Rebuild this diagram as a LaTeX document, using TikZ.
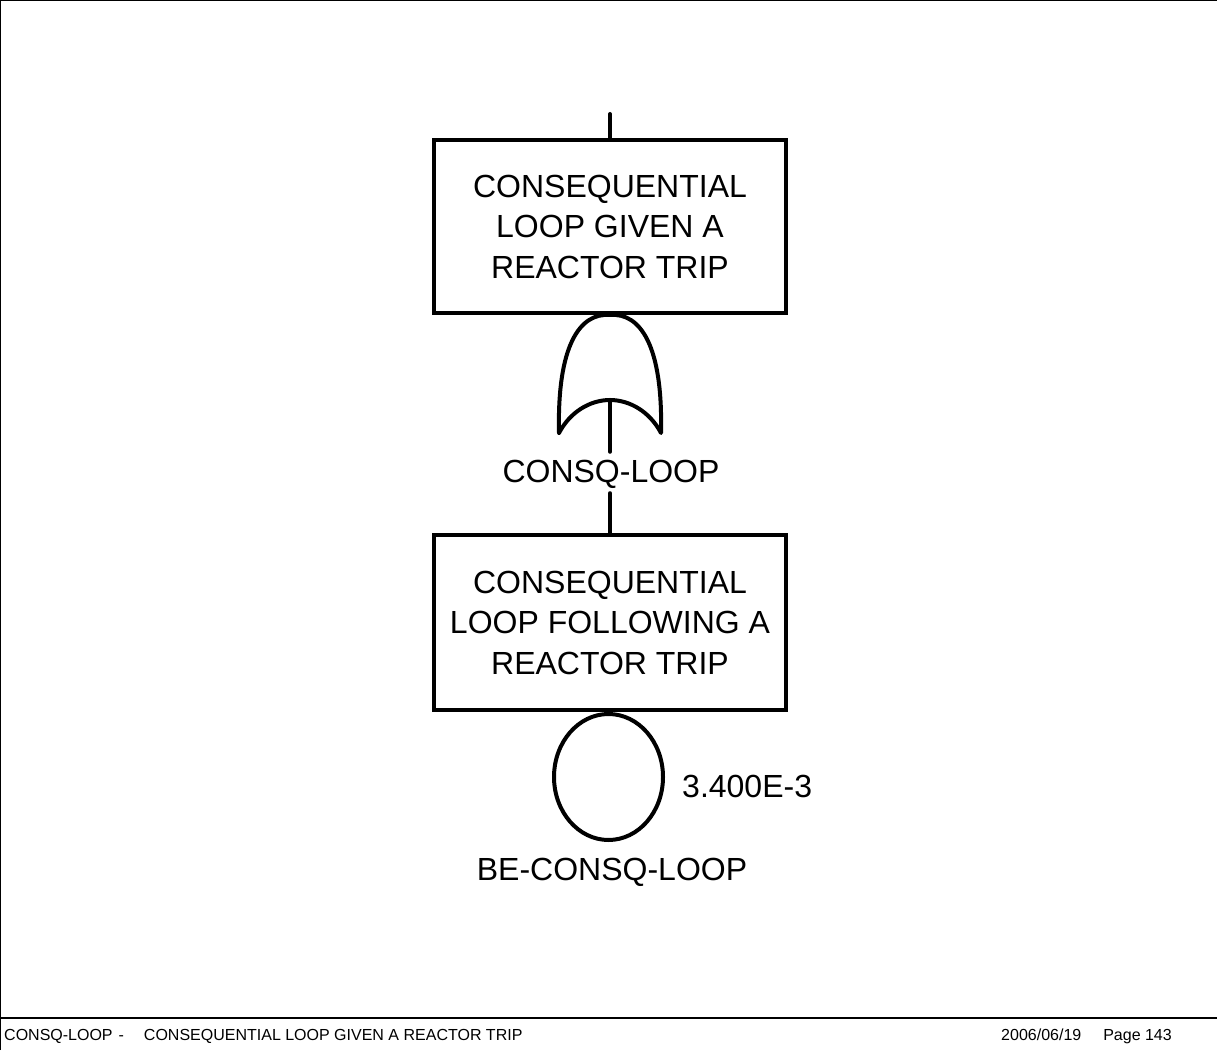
\documentclass[tikz,border=0pt]{standalone}
\usepackage{fontspec}
\setmainfont{Liberation Sans}
\usetikzlibrary{shapes.geometric}

\begin{document}
\begin{tikzpicture}[
        x=1pt, y=1pt,
        thick line/.style={line width=4pt, line cap=round},
        evbox/.style={
            rectangle,
            draw,
            line width=4pt,
            minimum width=352pt,
            minimum height=173pt,
            align=center,
            font=\fontsize{32}{40.5}\selectfont
        },
        lbl/.style={
            inner sep=0pt,
            font=\fontsize{32}{40.5}\selectfont
        },
        basic/.style={
            ellipse,
            draw,
            line width=4pt,
            minimum width=109pt,
            minimum height=126pt,
            inner sep=0pt
        },
        foot/.style={
            inner sep=0pt,
            font=\fontsize{16}{19}\selectfont
        },
        frame/.style={line width=1.2pt}
    ]
        \useasboundingbox (0,0) rectangle (1217,1050);

        % Page frame and footer rule
        \draw[frame] (0.6,0) -- (0.6,1049.4) -- (1217,1049.4);
        \draw[frame] (0,32) -- (1217,32);

        % Top event
        \coordinate (topin) at (610,936);
        \node[evbox] (top) at (610,823.5) {CONSEQUENTIAL\\LOOP GIVEN A\\REACTOR TRIP};
        \draw[thick line] (topin) -- (top.north);

        % OR gate
        \coordinate (apex) at (top.south);
        \coordinate (gl) at (559,617);
        \coordinate (gr) at (661,617);
        \coordinate (gin) at (610,650);
        \draw[line width=4pt, line join=round, line cap=round]
            (gl) .. controls (557,705) and (580,737.5) .. (apex)
                 .. controls (640,737.5) and (663,705) .. (gr)
                 .. controls (650,638) and (630,650) .. (gin)
                 .. controls (590,650) and (570,638) .. (gl);
        \node[lbl, text height=23pt, text depth=2pt, inner ysep=8pt]
            (gatelbl) at (611,577.5) {CONSQ-LOOP};
        \draw[thick line] (gin) -- (gin |- gatelbl.north);

        % Intermediate event
        \node[evbox, minimum height=174pt] (ev) at (610,427.5) {CONSEQUENTIAL\\LOOP FOLLOWING A\\REACTOR TRIP};
        \draw[thick line] (gin |- gatelbl.south) -- (ev.north);

        % Basic event
        \node[basic] (be) at (608.5,273) {};
        \node[lbl, anchor=base west] (prob) at (682,253) {3.400E-3};
        \node[lbl, anchor=base] (belbl) at (612,170) {BE-CONSQ-LOOP};

        % Footer
        \node[foot, anchor=base west] (ftl) at (4,10)
            {CONSQ-LOOP\hspace{6pt}-\hspace{20pt}CONSEQUENTIAL LOOP GIVEN A REACTOR TRIP};
        \node[foot, anchor=base east] (ftr) at (1172,10)
            {2006/06/19\hspace{22pt}Page 143};
    \end{tikzpicture}
\end{document}
